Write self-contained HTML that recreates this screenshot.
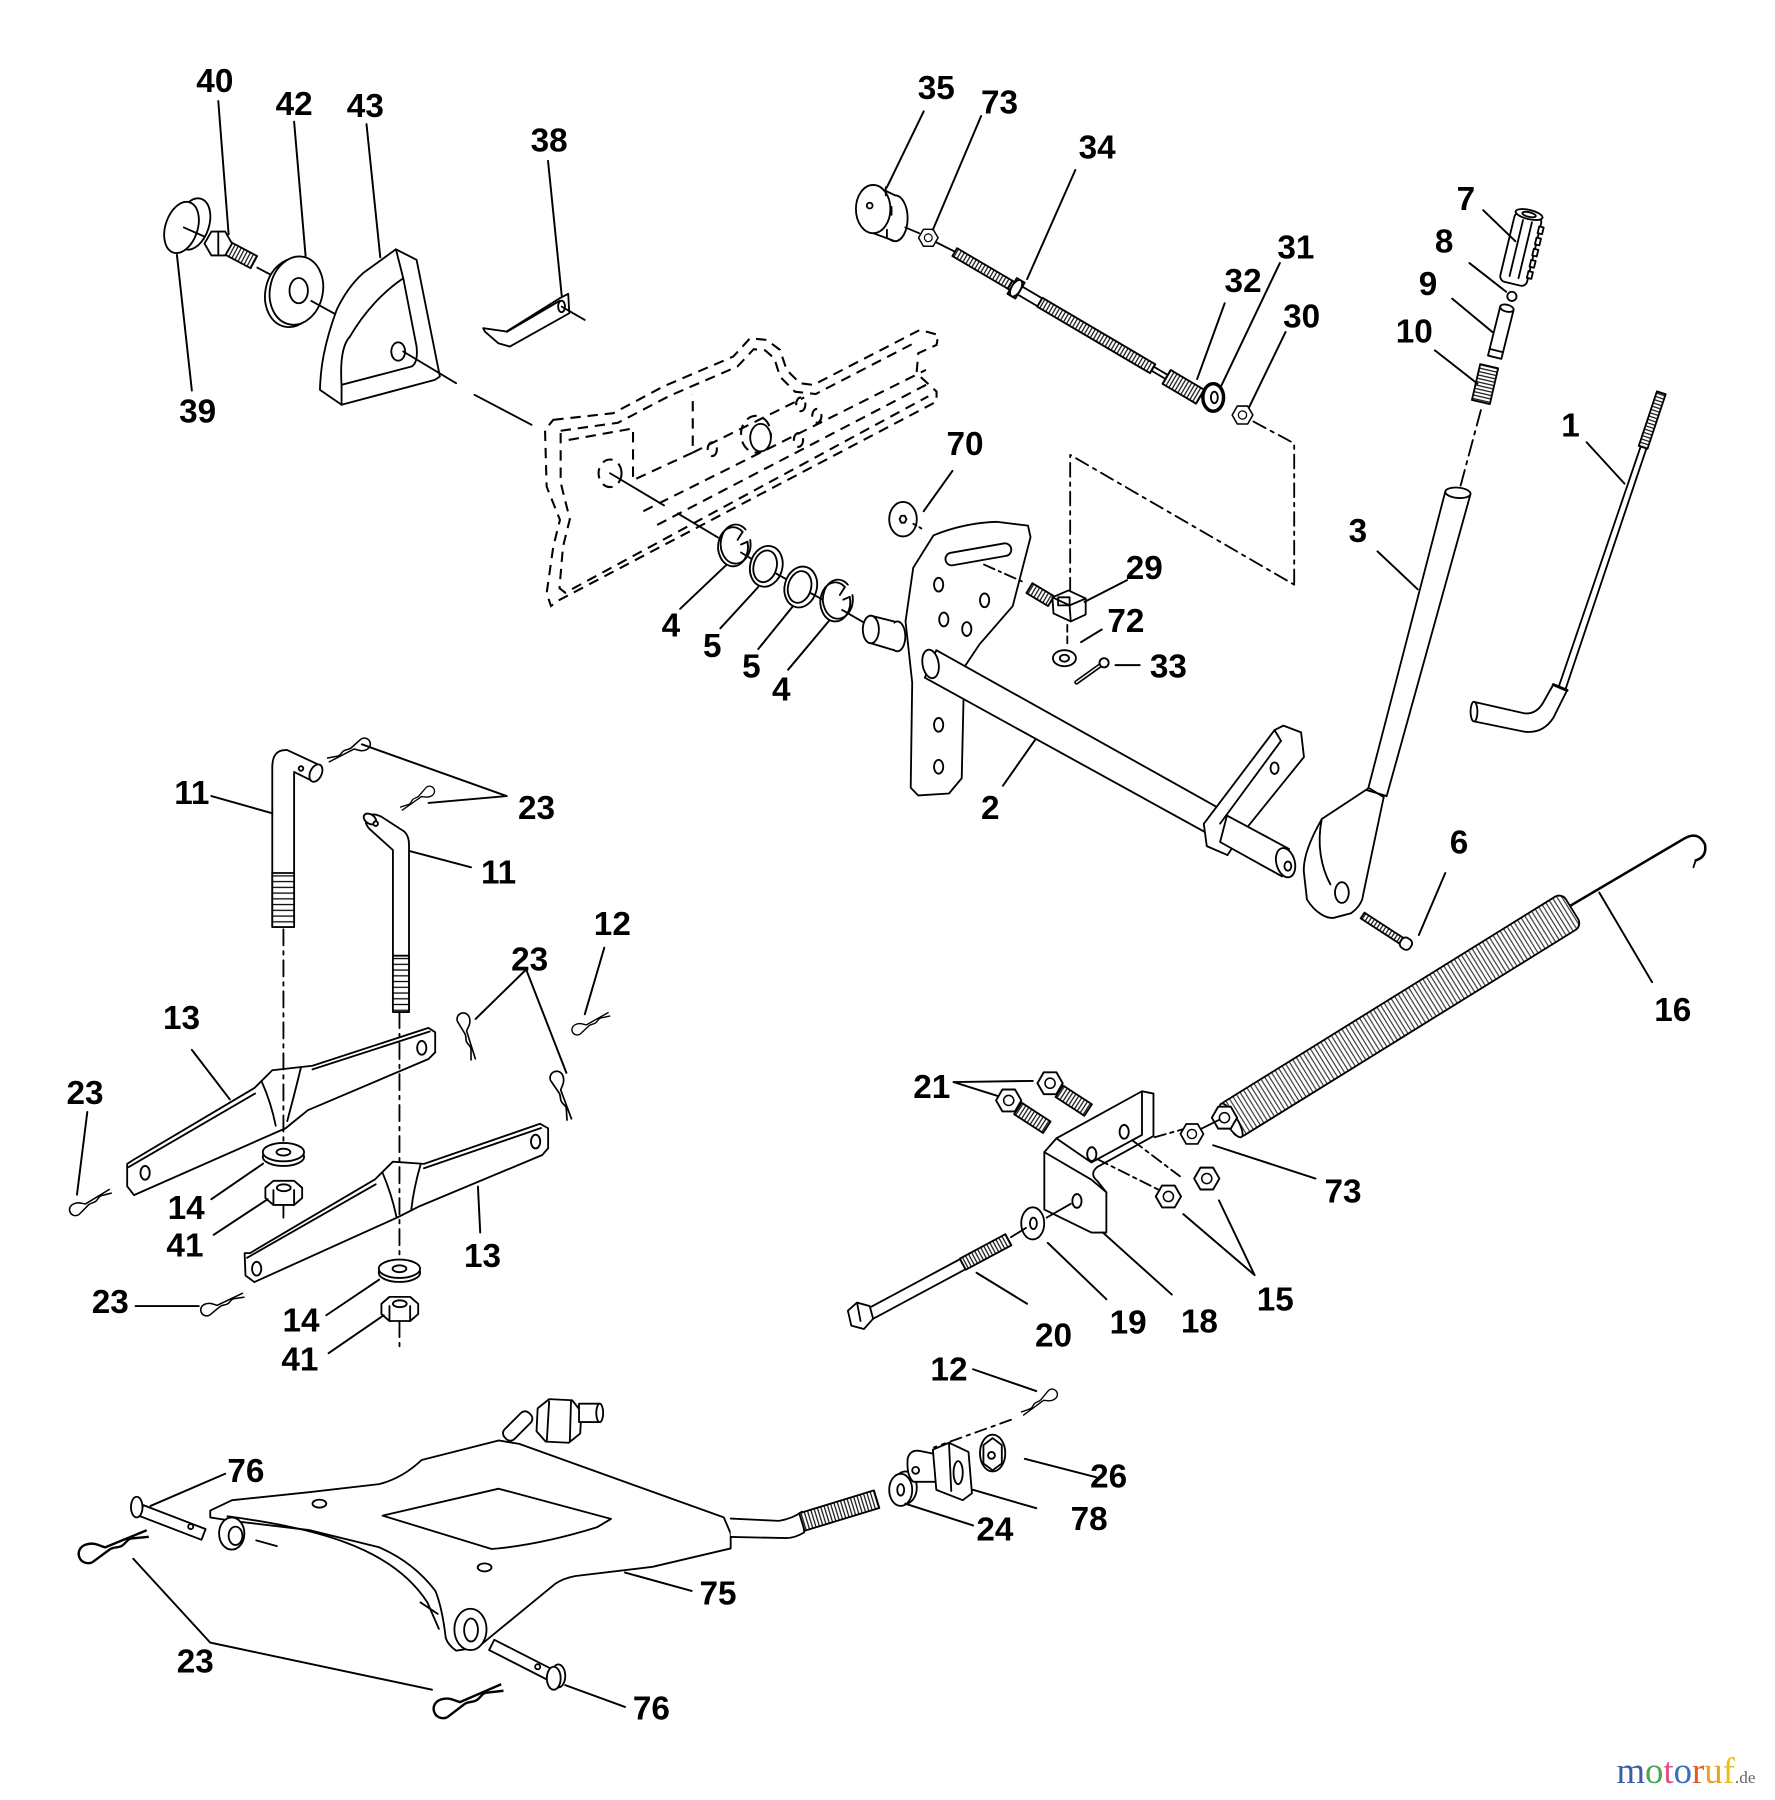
<!DOCTYPE html>
<html><head><meta charset="utf-8"><style>
html,body{margin:0;padding:0;background:#fff;}
svg{display:block}
.l{font-family:"Liberation Sans",Arial,sans-serif;font-weight:bold;font-size:29px;text-anchor:middle;fill:#000;stroke:none}
</style></head><body>
<svg width="1775" height="1800" viewBox="0 0 1545 1567" preserveAspectRatio="none" xmlns="http://www.w3.org/2000/svg">
<defs>
<pattern id="thr" width="3" height="80" patternUnits="userSpaceOnUse" y="-40"><rect width="3" height="80" fill="#fff"/><line x1="1.5" y1="0" x2="1.5" y2="80" stroke="#000" stroke-width="1"/></pattern>
<pattern id="thr5" width="5" height="80" patternUnits="userSpaceOnUse" y="-40"><rect width="5" height="80" fill="#fff"/><line x1="2.5" y1="0" x2="2.5" y2="80" stroke="#000" stroke-width="1.1"/></pattern>
<pattern id="coil" width="3.6" height="80" patternUnits="userSpaceOnUse" y="-40"><rect width="3.6" height="80" fill="#fff"/><line x1="1.8" y1="0" x2="1.8" y2="80" stroke="#333" stroke-width="1"/></pattern>
<path id="clp" d="M4,5 C-4,5 -4,-6 4,-6 C9,-6 11,-3 14,-1 L40,-3 M4,5 L16,1 C19,0 21,2 24,1 C27,0 28,-2 31,-1 L40,1" fill="none" stroke="#000" stroke-width="1.4"/>
<g id="nut"><polygon points="10,0 5,8.66 -5,8.66 -10,0 -5,-8.66 5,-8.66" fill="#fff" stroke="#000" stroke-width="1.5"/><circle r="4" fill="#fff" stroke="#000" stroke-width="1.2"/></g>
</defs>
<rect width="1545" height="1567" fill="#fff"/>

<g fill="none" stroke="#000" stroke-dasharray="9 6" stroke-width="1.8">
<path d="M481.6,365.5 L533.8,359.7 L577.3,336.5 L638.3,310.4 L652.8,294.5 L667.3,295.9 L678.9,304.6 L684.7,322 L696.3,333.6 L707.9,335.1 L800.7,287.2 L816.7,291.6 L815.2,300.3 L799.3,307.5 L797.8,324.9 L815.2,340.9 L815.2,349.6 L484.5,523.6 L479.6,527.6 L475.8,516.4 L481.6,475.8 L487.4,452.6 L475.8,423.6 L474.4,374.2 Z"/>
<path d="M488,375 L538,368 L582,345 L642,319 L656,304 L666,305 L674,312 L679,328 L692,341 L710,343 L797,298"/>
<path d="M488,377 L488,420 L496,452 L490,476 L487,512 L492,516 L808,345"/>
<path d="M495,383 L551,373 L551,418 L603,394 L603,343"/>
<path d="M603,394 L700,346"/>
<path d="M560,445 L806,322"/>
<path d="M572,457 L808,334"/>
<ellipse cx="531" cy="412" rx="10" ry="12"/>
<ellipse cx="620" cy="391" rx="4" ry="6"/>
<ellipse cx="695" cy="383" rx="4" ry="6"/>
<ellipse cx="711" cy="362" rx="4" ry="6"/>
<ellipse cx="697" cy="352" rx="4" ry="6"/>
<ellipse cx="658" cy="378" rx="13" ry="16"/>
</g>

<g fill="#fff" stroke="#000" stroke-width="1.6" stroke-linejoin="round" stroke-linecap="round">
<ellipse cx="662" cy="381" rx="9" ry="12"/>

<ellipse cx="168" cy="195" rx="14" ry="23" transform="rotate(18 168 195)"/>
<ellipse cx="158" cy="198" rx="14" ry="23" transform="rotate(18 158 198)"/>
<line x1="160" y1="198" x2="178" y2="206"/>
<g transform="translate(198,216) rotate(28)"><rect x="0" y="-6" width="26" height="12" fill="url(#thr)"/></g>
<polygon points="202,212 196,222.4 184,222.4 178,212 184,201.6 196,201.6"/>
<line x1="190" y1="202" x2="190" y2="222"/>
<line x1="224" y1="233" x2="241" y2="242"/>
<ellipse cx="254" cy="255" rx="23" ry="30" transform="rotate(12 254 255)"/>
<ellipse cx="258" cy="253" rx="23" ry="30" transform="rotate(12 258 253)"/>
<ellipse cx="260" cy="253" rx="8" ry="11"/>
<line x1="271" y1="262" x2="291" y2="273"/>
<path d="M278.5,339.4 C279,320 282,300 293,269.8 C300,255 308,245 316,237.8 L344.6,217 L362.6,226.2 L382.9,327.8 L378.5,330.7 L297.3,352.4 Z"/>
<path d="M351,242.2 L362.6,301.7 Q364,316 358.2,319.1 L297.3,335 C296,315 298,300 304.6,293 C318,270 335,253 351,242.2 Z"/>
<line x1="344.6" y1="217" x2="351" y2="242.2"/>
<line x1="297.3" y1="335" x2="297.3" y2="352.4"/>
<ellipse cx="346.6" cy="306" rx="6" ry="8"/>
<line x1="351" y1="306" x2="397" y2="333.6"/>
<line x1="413" y1="343.7" x2="462.7" y2="369.8"/>
<polygon points="420.6,285.7 440.9,288.6 487.3,259.6 494.6,255.8 495.5,272.7 443.8,301.7 433.7,298.8 422,288.6"/>
<line x1="441" y1="289" x2="487" y2="262"/>
<ellipse cx="488.8" cy="266.8" rx="3" ry="5"/>
<line x1="489" y1="267" x2="509" y2="278.5"/>

<ellipse cx="779" cy="190" rx="11" ry="20"/>
<path d="M760,161 L779,170 L779,210 L760,203 Z" stroke="none"/>
<line x1="760" y1="161" x2="779" y2="170"/>
<line x1="760" y1="203" x2="779" y2="210"/>
<ellipse cx="760" cy="182" rx="15" ry="21"/>
<circle cx="757" cy="179" r="2.5"/>
<line x1="771" y1="163" x2="771" y2="170"/><line x1="776" y1="180" x2="776" y2="187"/><line x1="772" y1="200" x2="772" y2="207"/>
<line x1="788" y1="198" x2="800" y2="203"/>
<use href="#nut" transform="translate(808,207) scale(0.85)"/>
<line x1="815" y1="211" x2="831" y2="219"/>
<g transform="translate(831,219.5) rotate(30.5)">
<rect x="0" y="-4" width="56" height="8" fill="url(#thr)"/>
<rect x="56" y="-4" width="30" height="8"/>
<rect x="58" y="-8" width="8" height="16"/>
<ellipse cx="62" cy="0" rx="4" ry="8"/>
<rect x="86" y="-4.5" width="114" height="9" fill="url(#thr)"/>
<rect x="200" y="-2" width="14" height="4"/>
<rect x="214" y="-7" width="34" height="14" fill="url(#thr)"/>
</g>
<ellipse cx="1056" cy="346" rx="9" ry="12" stroke-width="3"/>
<ellipse cx="1057" cy="346" rx="3" ry="5"/>
<use href="#nut" transform="translate(1081.5,361.3) scale(0.9)"/>
<g fill="none" stroke-dasharray="12 5 3 5">
<path d="M1091,367 L1126.5,386 L1126.5,509"/>
<path d="M931.5,515 L931.5,396 L1126.5,509"/>
</g>

<g transform="translate(1316,249) rotate(-76.5)">
<rect x="2" y="-12" width="62" height="24" rx="5"/>
<rect x="10" y="11" width="6" height="4"/><rect x="20" y="11" width="6" height="4"/><rect x="30" y="11" width="6" height="4"/><rect x="40" y="11" width="6" height="4"/><rect x="50" y="11" width="6" height="4"/>
<line x1="8" y1="-4" x2="58" y2="-4"/><line x1="8" y1="4" x2="58" y2="4"/>
<ellipse cx="64" cy="0" rx="4" ry="12"/><ellipse cx="64" cy="0" rx="2" ry="6"/>
</g>
<circle cx="1316" cy="258" r="4"/>
<g transform="translate(1301,311) rotate(-76)">
<rect x="0" y="-6" width="44" height="12"/><ellipse cx="44" cy="0" rx="3" ry="6"/><line x1="6" y1="-6" x2="6" y2="6"/>
</g>
<g transform="translate(1289,350) rotate(-77)"><rect x="0" y="-8" width="32" height="16" fill="url(#thr)"/></g>
<line x1="1289" y1="357" x2="1271" y2="424" stroke-dasharray="14 5 3 5"/>

<polygon points="1258,428 1280,430 1207,693 1190,690"/>
<ellipse cx="1269" cy="429" rx="11" ry="4.5" transform="rotate(5 1269 429)"/>
<path d="M1191.5,686 L1150.5,713 C1138,735 1134,750 1135,760 L1137.6,783 C1145,795 1155,800 1161,799 L1176,795 C1183,790 1186,784 1186.4,779.4 L1204.4,694 Z"/>
<path d="M1150.5,713 C1146,735 1150,755 1158,770" fill="none"/>
<line x1="1190" y1="688" x2="1207" y2="693"/>
<ellipse cx="1168" cy="777" rx="6" ry="9"/>

<line x1="1444" y1="342" x2="1355" y2="603"/>
<line x1="1449" y1="343" x2="1361" y2="605"/>
<g transform="translate(1446,342) rotate(108.4)"><rect x="0" y="-4" width="50" height="8" fill="url(#thr)"/></g>
<path d="M1283,611 L1327,621 Q1337,622 1343,612 L1352,596 L1364,601 L1352,625 Q1343,639 1327,637 L1283,628 Z"/>
<ellipse cx="1283" cy="619.5" rx="3" ry="8.5"/>
<line x1="1352" y1="596" x2="1364" y2="601" stroke-width="2.5"/>

<ellipse cx="786" cy="452" rx="12" ry="15"/>
<polygon points="789,452 787.5,455 784.5,455 783,452 784.5,449 787.5,449"/>
<line x1="795" y1="456" x2="802" y2="460" stroke-dasharray="3 3"/>

<ellipse cx="781" cy="554" rx="7" ry="13"/>
<path d="M758,536 L778,541 L778,566 L758,560 Z" stroke="none"/>
<line x1="758" y1="536" x2="778" y2="541"/><line x1="758" y1="560" x2="778" y2="566"/>
<ellipse cx="758" cy="548" rx="7" ry="12"/>
<path d="M812.6,466 Q840,455 868.1,454.3 L894.8,457.6 L897,467.6 L881.5,527.6 L852.6,560.9 L839.3,580.9 L837.1,677.5 L826,690.8 L799.3,692.5 L792.7,685.8 L794,594.2 L788.2,541 L794.9,494.3 Z"/>
<g transform="translate(851.6,482.6) rotate(-10)"><rect x="-29" y="-5.5" width="58" height="11" rx="5.5"/></g>
<ellipse cx="817" cy="509" rx="4" ry="6"/><ellipse cx="857" cy="522.6" rx="4" ry="6"/>
<ellipse cx="821.5" cy="539.3" rx="4" ry="6"/><ellipse cx="841.5" cy="547.6" rx="4" ry="6"/>
<ellipse cx="817" cy="631" rx="4" ry="6"/><ellipse cx="817" cy="667.5" rx="4" ry="6"/>
<line x1="856.5" y1="491.5" x2="891.5" y2="507" stroke-dasharray="10 4 2 4"/>
<polygon points="815,566 1060,703 1050,725 805,590"/>
<ellipse cx="810" cy="578" rx="7" ry="12.5" transform="rotate(-10 810 578)"/>
<path d="M1047.8,717.2 L1109.4,635.6 L1117.1,631.7 L1132.5,637.6 L1135,659 L1078.6,728.9 L1068.4,744.4 L1050.4,736.6 Z"/>
<line x1="1109.4" y1="635.6" x2="1115" y2="645"/><line x1="1115" y1="645" x2="1062" y2="717"/>
<ellipse cx="1109.4" cy="668.7" rx="3.5" ry="5"/>
<polygon points="1068,710 1122,739 1116,763 1062,733"/>
<ellipse cx="1119" cy="751" rx="8" ry="13" transform="rotate(-15 1119 751)"/>
<ellipse cx="1121" cy="754" rx="3" ry="4"/>

<g transform="translate(896,512) rotate(31)"><rect x="0" y="-5" width="22" height="10" fill="url(#thr)"/></g>
<polygon points="916,520 930,514 945,521 945,535 932,541 917,534"/>
<polyline points="916,520 931,527 945,521" fill="none"/><line x1="931" y1="527" x2="932" y2="541"/>
<rect x="921" y="520" width="10" height="7" fill="none"/>
<line x1="929" y1="544" x2="929" y2="562" stroke-dasharray="6 4"/>
<ellipse cx="926.5" cy="573" rx="10" ry="7"/>
<ellipse cx="926.5" cy="573" rx="4" ry="3"/>
<line x1="937" y1="594" x2="958" y2="579" stroke-width="4"/>
<line x1="937" y1="594" x2="958" y2="579" stroke="#fff" stroke-width="1.2"/>
<circle cx="961" cy="577" r="4"/>

<line x1="531" y1="412" x2="578" y2="440"/>
<line x1="590" y1="447" x2="625" y2="468"/>
<path d="M646.4,463 A13,17 0 1,0 650.6,471.6" fill="none"/>
<path d="M649,461 A13,17 0 1,0 653,470" fill="none"/>
<line x1="646.4" y1="463" x2="642" y2="470"/><line x1="650.6" y1="471.6" x2="645" y2="474"/>
<line x1="645" y1="481" x2="655" y2="487"/>
<ellipse cx="667" cy="493" rx="14" ry="18" transform="rotate(15 667 493)"/>
<ellipse cx="666" cy="493" rx="10" ry="14" transform="rotate(15 666 493)"/>
<line x1="675" y1="499" x2="684" y2="504"/>
<ellipse cx="697" cy="511" rx="14" ry="18" transform="rotate(15 697 511)"/>
<ellipse cx="696" cy="511" rx="10" ry="14" transform="rotate(15 696 511)"/>
<line x1="705" y1="516" x2="716" y2="522"/>
<path d="M735.4,511 A13,17 0 1,0 739.6,519.6" fill="none"/>
<path d="M738,509 A13,17 0 1,0 742,518" fill="none"/>
<line x1="735.4" y1="511" x2="731" y2="518"/><line x1="739.6" y1="519.6" x2="734" y2="522"/>
<line x1="733" y1="531" x2="752" y2="542"/>

<path d="M1366,789 L1466,730 Q1478,723 1484,735 Q1486,746 1476,749" fill="none" stroke-width="2.2"/>
<line x1="1476" y1="749" x2="1474" y2="755"/>
<g transform="translate(1068.3,977.5) rotate(-31.8)">
<rect x="0" y="-17" width="353" height="34" rx="7" fill="url(#coil)"/>
<ellipse cx="4" cy="0" rx="5" ry="17"/>
</g>
<use href="#nut" transform="translate(1065.8,973) scale(1.1)"/>

<g transform="translate(1186,797) rotate(33)"><rect x="0" y="-3" width="40" height="6" fill="url(#thr)"/><rect x="40" y="-5" width="10" height="10" rx="4"/></g>

<line x1="1041" y1="985" x2="1061" y2="975"/>
<use href="#nut" transform="translate(1037.5,987.2) scale(1)"/>
<g transform="translate(886,965) rotate(33)"><rect x="0" y="-6" width="30" height="12" fill="url(#thr)"/></g>
<use href="#nut" transform="translate(878,958) scale(1.1)"/>
<g transform="translate(922,950) rotate(33)"><rect x="0" y="-6" width="30" height="12" fill="url(#thr)"/></g>
<use href="#nut" transform="translate(914,943) scale(1.1)"/>
<path d="M909,1003 L919.5,991 L994,950 L1004,952 L1004,989 L955,1016 Q948,1022 955,1028 L963,1038 L963,1073 L950,1073 L909,1053 Z"/>
<polyline points="909,1003 950,1027 963,1038" fill="none"/>
<polyline points="994,950 994,988 950,1012 919.5,991" fill="none"/>
<ellipse cx="978.5" cy="985.3" rx="4" ry="6"/><ellipse cx="950.3" cy="1004.7" rx="4" ry="6"/><ellipse cx="937.4" cy="1045.5" rx="4" ry="6"/>
<g fill="none" stroke-dasharray="10 4 3 4">
<line x1="986" y1="993" x2="1027" y2="1024"/>
<line x1="955" y1="1009" x2="1017" y2="1040"/>
<line x1="1005" y1="990" x2="1030" y2="983"/>
</g>
<use href="#nut" transform="translate(1050.4,1026) scale(1.1)"/>
<use href="#nut" transform="translate(1017,1041.6) scale(1.1)"/>
<line x1="911" y1="1060" x2="932" y2="1048"/>
<ellipse cx="898.9" cy="1065" rx="10" ry="14"/>
<ellipse cx="899.5" cy="1065" rx="3" ry="5"/>
<g transform="translate(757,1144) rotate(-28.2)">
<rect x="0" y="-5" width="92" height="10"/>
<rect x="92" y="-5.5" width="45" height="11" fill="url(#thr)"/>
</g>
<polygon points="738,1141 746,1134 757,1137 760,1148 752,1157 741,1154"/>
<line x1="746" y1="1134" x2="749" y2="1150"/>
<line x1="880" y1="1077" x2="893" y2="1069"/>

<path d="M237,807 L237,668 Q237,652 250,653 L278,666 L272,680 L256,672 L256,807 Z"/>
<ellipse cx="275" cy="673" rx="5" ry="8" transform="rotate(25 275 673)"/>
<circle cx="262" cy="669" r="2"/>
<g transform="translate(246.5,760) rotate(90)"><rect x="0" y="-9.5" width="47" height="19" fill="url(#thr5)"/></g>
<path d="M342,881 L342,740 L322,722 Q316,716 320,711 Q324,707 332,711 L352,724 Q356,728 356,735 L356,881 Z"/>
<ellipse cx="322" cy="713" rx="6" ry="4" transform="rotate(35 322 713)"/>
<circle cx="327" cy="717" r="2"/>
<g transform="translate(349,832) rotate(90)"><rect x="0" y="-7" width="49" height="14" fill="url(#thr5)"/></g>

<path d="M116.6,1009.4 L221.4,947.2 L237,931.7 L272,927.8 L373,894.8 L378.8,898.6 L378.8,916.1 L373,921.9 L268,966.5 L248.6,982.2 L116.6,1040.4 L110.7,1032.7 L110.7,1013.2 Z"/>
<line x1="112" y1="1016" x2="222" y2="952"/>
<line x1="272" y1="931" x2="374" y2="898"/>
<path d="M228,942 Q236,960 240,980" fill="none"/>
<path d="M262,929 Q257,950 250,976" fill="none"/>
<ellipse cx="126.3" cy="1021" rx="4" ry="6"/><ellipse cx="367.1" cy="912.2" rx="4" ry="6"/>
<path d="M217.6,1090.9 L326.3,1026.8 L341.9,1011.3 L369.1,1013.2 L470.1,978.3 L477.1,982.2 L477.1,999.6 L472,1005.5 L365.2,1050.1 L345.8,1059.9 L221.4,1116.1 L213.7,1110.4 L212.9,1090.9 Z"/>
<line x1="215" y1="1095" x2="327" y2="1031"/>
<line x1="369" y1="1017" x2="471" y2="982"/>
<path d="M333,1021 Q341,1040 345,1059" fill="none"/>
<path d="M366,1014 Q360,1035 358,1053" fill="none"/>
<ellipse cx="223.4" cy="1104.5" rx="4" ry="6"/><ellipse cx="466.2" cy="993.8" rx="4" ry="6"/>
<g fill="none" stroke-dasharray="14 5 3 5">
<line x1="246.7" y1="809" x2="246.7" y2="995"/>
<line x1="246.7" y1="1050" x2="246.7" y2="1060"/>
<line x1="347.7" y1="881" x2="347.7" y2="1096"/>
<line x1="347.7" y1="1150" x2="347.7" y2="1176"/>
</g>
<ellipse cx="246.7" cy="1007" rx="18" ry="8"/>
<ellipse cx="246.7" cy="1003" rx="18" ry="8"/>
<ellipse cx="246.7" cy="1003" rx="6" ry="3"/>
<path d="M231,1034 L238,1028 L256,1028 L263,1034 L263,1043 L256,1049 L238,1049 L231,1043 Z"/>
<ellipse cx="247" cy="1034" rx="6" ry="3"/>
<line x1="238" y1="1036" x2="238" y2="1049"/><line x1="256" y1="1036" x2="256" y2="1049"/>
<ellipse cx="347.7" cy="1108" rx="18" ry="8"/>
<ellipse cx="347.7" cy="1104.5" rx="18" ry="8"/>
<ellipse cx="347.7" cy="1104.5" rx="6" ry="3"/>
<path d="M332,1135 L339,1129 L357,1129 L364,1135 L364,1144 L357,1150 L339,1150 L332,1144 Z"/>
<ellipse cx="348" cy="1135" rx="6" ry="3"/>
<line x1="339" y1="1137" x2="339" y2="1150"/><line x1="357" y1="1137" x2="357" y2="1150"/>

<path d="M183,1315 L202,1306 L269,1299 L330,1292 Q350,1287 367,1271 L434,1254 L452,1257 L630,1321 L636,1335 L636,1348 L568,1364 L501,1372 Q490,1374 483,1379 L416,1434 L397,1437 Q390,1432 388,1426 Q385,1400 379,1385 Q360,1360 330,1347 L269,1332 L202,1324 L183,1321 Z"/>
<path d="M198,1320 C270,1330 340,1345 372,1395 L382,1418" fill="none"/>
<path d="M333,1319.4 L434,1296 L531.8,1322.3 L519.6,1329.6 Q470,1345 427.9,1348.5 Z"/>
<ellipse cx="278" cy="1309" rx="6" ry="3.5"/>
<ellipse cx="421.8" cy="1364.5" rx="6" ry="3.5"/>
<ellipse cx="201.7" cy="1335" rx="11" ry="14"/>
<ellipse cx="205" cy="1337" rx="6" ry="8"/>
<line x1="223" y1="1341" x2="241" y2="1346"/>
<ellipse cx="409.5" cy="1418.5" rx="14" ry="18"/>
<ellipse cx="410" cy="1419" rx="6" ry="10"/>
<line x1="366" y1="1395" x2="381" y2="1405"/>
<g transform="translate(440,1252) rotate(-45)"><rect x="0" y="-6" width="30" height="12" rx="5"/></g>
<path d="M468,1226 L478,1218 L498,1219 L506,1229 L505,1248 L495,1256 L475,1255 L467,1246 Z"/>
<line x1="478" y1="1220" x2="476" y2="1254"/><line x1="497" y1="1220" x2="496" y2="1255"/>
<rect x="504" y="1222" width="18" height="16"/>
<ellipse cx="522" cy="1230" rx="3" ry="8"/>
<path d="M636,1322 L678,1324 Q690,1322 698,1316 L700,1334 Q692,1339 684,1339 L636,1338"/>
<g transform="translate(698,1325) rotate(-17)"><rect x="0" y="-8" width="68" height="16" fill="url(#thr)"/></g>
<ellipse cx="788" cy="1295" rx="10" ry="14"/>
<ellipse cx="784" cy="1297" rx="10" ry="14"/>
<ellipse cx="784" cy="1297" rx="3" ry="5"/>
<path d="M790,1270 Q792,1262 800,1263 L815,1266 L815,1290 L795,1290 Q789,1285 790,1270 Z"/>
<circle cx="797" cy="1280" r="3"/>
<path d="M812,1262 L826,1256 L843,1264 L846,1300 L838,1306 L815,1297 Z"/>
<line x1="826" y1="1256" x2="828" y2="1298"/>
<ellipse cx="834" cy="1282" rx="4" ry="10"/>
<ellipse cx="864" cy="1265" rx="11" ry="16"/>
<polygon points="872,1258 872,1274 864,1280 856,1274 856,1258 864,1252"/>
<circle cx="863" cy="1267" r="3"/>
<line x1="880" y1="1236" x2="813" y2="1260" stroke-dasharray="10 5 3 5"/>
<g transform="translate(123,1315) rotate(21)"><rect x="0" y="-5" width="58" height="10"/></g>
<circle cx="166" cy="1329" r="2.2"/>
<ellipse cx="119" cy="1312" rx="5" ry="9"/>
<g transform="translate(428,1432) rotate(27)"><rect x="0" y="-5" width="56" height="10"/></g>
<circle cx="468" cy="1451" r="2.2"/>
<ellipse cx="486" cy="1459" rx="6" ry="10"/>
<ellipse cx="482" cy="1461" rx="6" ry="10"/>
</g>

<use href="#clp" transform="translate(320,646) rotate(157) scale(0.95)"/>
<use href="#clp" transform="translate(376,687) rotate(149) scale(0.8)"/>
<use href="#clp" transform="translate(402,884) rotate(77)"/>
<use href="#clp" transform="translate(483,935) rotate(74) scale(1.05)"/>
<use href="#clp" transform="translate(500,898) rotate(-25) scale(0.85)"/>
<use href="#clp" transform="translate(63,1055) rotate(-27) scale(0.95)"/>
<use href="#clp" transform="translate(177,1142) rotate(-21) scale(0.95)"/>
<use href="#clp" transform="translate(72,1355) rotate(-18) scale(1.5)"/>
<use href="#clp" transform="translate(381,1490) rotate(-19) scale(1.5)"/>
<use href="#clp" transform="translate(918,1212) rotate(148) scale(0.85)"/>

<g stroke="#000" stroke-width="1.7" fill="none" stroke-linecap="round">
<line x1="190" y1="88" x2="199" y2="204"/>
<line x1="256" y1="106" x2="266" y2="223"/>
<line x1="319" y1="108" x2="331" y2="224"/>
<line x1="477" y1="140" x2="489" y2="258"/>
<line x1="154" y1="222" x2="167" y2="340"/>
<line x1="804" y1="97" x2="772" y2="163"/>
<line x1="854" y1="101" x2="812" y2="200"/>
<line x1="936" y1="148" x2="894" y2="243"/>
<line x1="1066" y1="264" x2="1042" y2="330"/>
<line x1="1114" y1="229" x2="1062" y2="338"/>
<line x1="1119" y1="289" x2="1087" y2="355"/>
<line x1="1291" y1="183" x2="1319" y2="210"/>
<line x1="1279" y1="229" x2="1311" y2="254"/>
<line x1="1264" y1="260" x2="1299" y2="289"/>
<line x1="1249" y1="305" x2="1286" y2="334"/>
<line x1="1381" y1="385" x2="1414" y2="421"/>
<line x1="1199" y1="480" x2="1234" y2="513"/>
<line x1="829" y1="410" x2="804" y2="445"/>
<line x1="944" y1="524" x2="981" y2="505"/>
<line x1="941" y1="559" x2="959" y2="548"/>
<line x1="971" y1="579" x2="992" y2="579"/>
<line x1="592" y1="530" x2="632" y2="492"/>
<line x1="627" y1="547" x2="660" y2="511"/>
<line x1="660" y1="565" x2="690" y2="528"/>
<line x1="686" y1="583" x2="722" y2="540"/>
<line x1="873" y1="684" x2="901" y2="644"/>
<line x1="1258" y1="760" x2="1235" y2="814"/>
<line x1="1392" y1="777" x2="1438" y2="855"/>
<line x1="184" y1="693" x2="237" y2="708"/>
<line x1="441" y1="693" x2="315" y2="648"/>
<line x1="441" y1="693" x2="373" y2="699"/>
<line x1="357" y1="741" x2="410" y2="755"/>
<line x1="526" y1="825" x2="509" y2="883"/>
<line x1="458" y1="844" x2="414" y2="887"/>
<line x1="458" y1="844" x2="493" y2="934"/>
<line x1="167" y1="914" x2="200" y2="957"/>
<line x1="76" y1="968" x2="67" y2="1040"/>
<line x1="830" y1="942" x2="899" y2="941"/>
<line x1="830" y1="942" x2="868" y2="954"/>
<line x1="184" y1="1044" x2="229" y2="1013"/>
<line x1="186" y1="1075" x2="233" y2="1044"/>
<line x1="416" y1="1033" x2="418" y2="1073"/>
<line x1="1056" y1="997" x2="1145" y2="1026"/>
<line x1="1030" y1="1057" x2="1092" y2="1110"/>
<line x1="1061" y1="1045" x2="1092" y2="1110"/>
<line x1="118" y1="1137" x2="173" y2="1137"/>
<line x1="284" y1="1145" x2="330" y2="1114"/>
<line x1="286" y1="1178" x2="334" y2="1145"/>
<line x1="850" y1="1108" x2="894" y2="1135"/>
<line x1="912" y1="1082" x2="963" y2="1131"/>
<line x1="960" y1="1073" x2="1020" y2="1127"/>
<line x1="847" y1="1192" x2="902" y2="1211"/>
<line x1="196" y1="1283" x2="131" y2="1311"/>
<line x1="892" y1="1270" x2="954" y2="1286"/>
<line x1="847" y1="1297" x2="902" y2="1313"/>
<line x1="788" y1="1309" x2="847" y2="1328"/>
<line x1="544" y1="1369" x2="602" y2="1385"/>
<polyline points="116,1357 183,1430 376,1471"/>
<line x1="492" y1="1467" x2="544" y2="1486"/>
</g>

<g>
<text class="l" x="187" y="80">40</text>
<text class="l" x="256" y="100">42</text>
<text class="l" x="318" y="102">43</text>
<text class="l" x="478" y="132">38</text>
<text class="l" x="172" y="368">39</text>
<text class="l" x="815" y="86">35</text>
<text class="l" x="870" y="99">73</text>
<text class="l" x="955" y="138">34</text>
<text class="l" x="1128" y="225">31</text>
<text class="l" x="1082" y="254">32</text>
<text class="l" x="1133" y="285">30</text>
<text class="l" x="1276" y="183">7</text>
<text class="l" x="1257" y="220">8</text>
<text class="l" x="1243" y="257">9</text>
<text class="l" x="1231" y="298">10</text>
<text class="l" x="1367" y="380">1</text>
<text class="l" x="1182" y="472">3</text>
<text class="l" x="840" y="396">70</text>
<text class="l" x="996" y="504">29</text>
<text class="l" x="980" y="550">72</text>
<text class="l" x="1017" y="590">33</text>
<text class="l" x="584" y="554">4</text>
<text class="l" x="620" y="572">5</text>
<text class="l" x="654" y="590">5</text>
<text class="l" x="680" y="610">4</text>
<text class="l" x="862" y="713">2</text>
<text class="l" x="1270" y="743">6</text>
<text class="l" x="1456" y="889">16</text>
<text class="l" x="167" y="700">11</text>
<text class="l" x="467" y="713">23</text>
<text class="l" x="434" y="769">11</text>
<text class="l" x="533" y="814">12</text>
<text class="l" x="461" y="845">23</text>
<text class="l" x="158" y="896">13</text>
<text class="l" x="74" y="961">23</text>
<text class="l" x="811" y="956">21</text>
<text class="l" x="162" y="1061">14</text>
<text class="l" x="161" y="1094">41</text>
<text class="l" x="420" y="1103">13</text>
<text class="l" x="1169" y="1047">73</text>
<text class="l" x="1110" y="1141">15</text>
<text class="l" x="96" y="1143">23</text>
<text class="l" x="262" y="1159">14</text>
<text class="l" x="261" y="1193">41</text>
<text class="l" x="917" y="1172">20</text>
<text class="l" x="982" y="1161">19</text>
<text class="l" x="1044" y="1160">18</text>
<text class="l" x="826" y="1202">12</text>
<text class="l" x="214" y="1290">76</text>
<text class="l" x="965" y="1295">26</text>
<text class="l" x="948" y="1332">78</text>
<text class="l" x="866" y="1341">24</text>
<text class="l" x="625" y="1397">75</text>
<text class="l" x="170" y="1456">23</text>
<text class="l" x="567" y="1497">76</text>
</g>

<text x="1407" y="1552" font-family="'Liberation Serif',serif" font-size="32"><tspan fill="#3a5fa8">m</tspan><tspan fill="#4ca64c">o</tspan><tspan fill="#e0508a">t</tspan><tspan fill="#3a6fc0">o</tspan><tspan fill="#e05a2a">r</tspan><tspan fill="#f0a020">u</tspan><tspan fill="#e8c020">f</tspan><tspan fill="#666" font-size="15">.de</tspan></text>
</svg>
</body></html>
